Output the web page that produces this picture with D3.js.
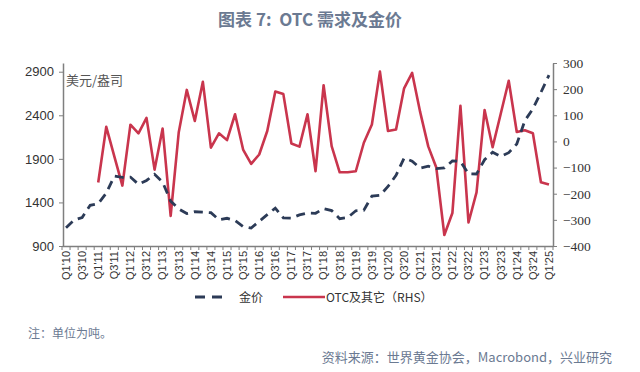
<!DOCTYPE html>
<html>
<head>
<meta charset="utf-8">
<script src="https://cdn.jsdelivr.net/npm/d3@7/dist/d3.min.js"></script>
<style>
  html, body { margin: 0; padding: 0; background: #fff; }
  svg { display: block; }
  .sans { font-family: "Liberation Sans", Arimo, Arial, Helvetica, sans-serif; }
  .serif { font-family: "Liberation Serif", Tinos, "Times New Roman", "DejaVu Serif", serif; }
  .cjk { font-family: "Noto Sans CJK SC", "Noto Sans", sans-serif; }
</style>
</head>
<body>
<svg id="chart" width="640" height="372"></svg>
<script>
// ---------- data ----------
const quarters = [];
for (let y = 10; y <= 25; y++) {
  for (let q = 1; q <= 4; q++) {
    if (y === 25 && q > 1) break;
    quarters.push("Q" + q + "'" + String(y).padStart(2, "0"));
  }
}
// Gold price (USD/oz), left axis
const goldPrice = [1109, 1197, 1227, 1367, 1386, 1506, 1702, 1688, 1691, 1609, 1652, 1722,
  1632, 1415, 1326, 1272, 1293, 1288, 1282, 1201, 1218, 1192, 1124, 1106,
  1183, 1260, 1335, 1222, 1219, 1257, 1278, 1275, 1329, 1306, 1213, 1227,
  1304, 1310, 1472, 1481, 1583, 1711, 1909, 1874, 1794, 1816, 1789, 1795,
  1877, 1871, 1729, 1726, 1890, 1976, 1929, 1971, 2070, 2338, 2474, 2663, 2860];
// OTC and other (tonnes), right axis; starts Q1'11
const otcOther = [null, null, null, null,
  -157, 56, -57, -169, 64, 31, 90, -108, 49, -285, 34, 197,
  78, 228, -24, 31, 5, 104, -31, -86, -50, 40, 191, 181,
  -8, -20, 104, -114, 215, -18, -118, -118, -114, -5, 65, 267,
  40, 46, 203, 262, 112, -19, -100, -358, -274, 136, -310, -195,
  120, -22, 105, 232, 36, 43, 31, -156, -165];
const leftTicks = [900, 1400, 1900, 2400, 2900];
const rightTicks = [-400, -300, -200, -100, 0, 100, 200, 300];
const labels = {
  title: "图表 7:\u00a0\u00a0OTC 需求及金价",
  unit: "美元/盎司",
  gold: "金价",
  otc: "OTC及其它（RHS）",
  note: "注：单位为吨。",
  source: "资料来源：世界黄金协会，Macrobond，兴业研究"
};

// ---------- layout ----------
const svg = d3.select("#chart");
const plotL = 62, plotR = 553, plotT = 63, plotB = 246;
const axisColor = "#7f7f7f";
const red = "#c9354d", navy = "#2c3b57";

const x = d3.scaleBand().domain(quarters).range([plotL, plotR]).paddingInner(0).paddingOuter(0);
const xc = d => x(d) + x.bandwidth() / 2;
const yL = d3.scaleLinear().domain([900, 3000]).range([plotB, plotT]);
const yR = d3.scaleLinear().domain([-400, 300]).range([plotB, plotT]);

// title
svg.append("text").attr("class", "cjk").attr("x", 310).attr("y", 26).attr("text-anchor", "middle")
  .attr("font-size", 17).attr("font-weight", "bold")
  .attr("fill", "#6b7a92").text(labels.title);

// left axis
const gL = svg.append("g").attr("transform", `translate(${plotL + 1},0)`)
  .call(d3.axisLeft(yL).tickValues(leftTicks).tickFormat(d3.format("d"))
    .tickSize(4).tickSizeOuter(0).tickPadding(5));
gL.attr("font-family", null);
gL.select(".domain").attr("stroke", axisColor).attr("stroke-width", 1.5);
gL.selectAll(".tick line").attr("stroke", axisColor);
gL.selectAll(".tick text").attr("class", "sans").attr("font-size", 13).attr("fill", "#333");

// right axis
const gR = svg.append("g").attr("transform", `translate(${plotR},0)`)
  .call(d3.axisRight(yR).tickValues(rightTicks).tickFormat(d3.format("d"))
    .tickSize(4).tickSizeOuter(0).tickPadding(6));
gR.attr("font-family", null);
gR.select(".domain").attr("stroke", axisColor).attr("stroke-width", 1.5);
gR.selectAll(".tick line").attr("stroke", axisColor);
gR.selectAll(".tick text").attr("class", "serif").attr("font-size", 13.5).attr("fill", "#333");

// bottom axis
const gB = svg.append("g").attr("transform", `translate(0,${plotB})`)
  .call(d3.axisBottom(x).tickSize(0).tickSizeOuter(0)
    .tickFormat((d, i) => i % 2 === 0 ? d : ""));
gB.attr("font-family", null);
gB.select(".domain").attr("stroke", axisColor).attr("stroke-width", 1.5);
gB.selectAll(".tick text")
  .attr("class", "sans").attr("font-size", 11)
  .attr("fill", "#333")
  .attr("text-anchor", "end")
  .attr("transform", "rotate(-90)")
  .attr("x", -5).attr("y", 0).attr("dy", "0.35em");
// boundary tick marks
const bounds = quarters.map(q => x(q)).concat([x(quarters[quarters.length - 1]) + x.bandwidth()]);
svg.append("g").selectAll("line").data(bounds).join("line")
  .attr("x1", d => d).attr("x2", d => d)
  .attr("y1", plotB).attr("y2", plotB + 4)
  .attr("stroke", axisColor).attr("stroke-width", 1);

// unit label
svg.append("text").attr("class", "cjk").attr("x", 66).attr("y", 85)
  .attr("font-size", 13).attr("fill", "#555")
  .text(labels.unit);

// OTC line
const lineR = d3.line()
  .defined(d => d.v !== null)
  .x(d => xc(d.q)).y(d => yR(d.v));
svg.append("path")
  .datum(quarters.map((q, i) => ({ q, v: otcOther[i] })))
  .attr("d", lineR).attr("fill", "none")
  .attr("stroke", red).attr("stroke-width", 2.6).attr("stroke-linejoin", "round");

// gold line
const lineL = d3.line().x(d => xc(d.q)).y(d => yL(d.v));
svg.append("path")
  .datum(quarters.map((q, i) => ({ q, v: goldPrice[i] })))
  .attr("d", lineL).attr("fill", "none")
  .attr("stroke", navy).attr("stroke-width", 2.8)
  .attr("stroke-dasharray", "9,6");

// legend
const legY = 297;
svg.append("line").attr("x1", 195).attr("x2", 222).attr("y1", legY).attr("y2", legY)
  .attr("stroke", navy).attr("stroke-width", 2.8).attr("stroke-dasharray", "10,7");
svg.append("text").attr("class", "cjk").attr("x", 239).attr("y", legY + 4.5)
  .attr("font-size", 12).attr("fill", "#333").text(labels.gold);
svg.append("line").attr("x1", 283).attr("x2", 325).attr("y1", legY).attr("y2", legY)
  .attr("stroke", red).attr("stroke-width", 2.6);
svg.append("text").attr("class", "cjk").attr("x", 326).attr("y", legY + 4.5)
  .attr("font-size", 12).attr("fill", "#333").text(labels.otc);

// note & source
svg.append("text").attr("class", "cjk").attr("x", 28).attr("y", 338)
  .attr("font-size", 12).attr("fill", "#6b7a92").text(labels.note);
svg.append("text").attr("class", "cjk").attr("x", 612).attr("y", 362).attr("text-anchor", "end")
  .attr("font-size", 13).attr("fill", "#6b7a92").text(labels.source);
</script>
</body>
</html>
